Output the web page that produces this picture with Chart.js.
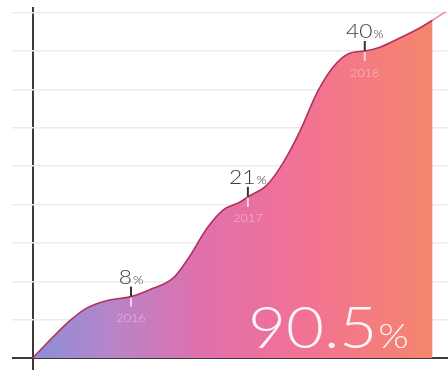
<!DOCTYPE html>
<html><head><meta charset="utf-8">
<script src="https://cdn.jsdelivr.net/npm/chart.js@4/dist/chart.umd.min.js"></script>
<style>html,body{margin:0;padding:0;background:#fff}#wrap{width:448px;height:370px}</style>
</head><body><div id="wrap"><canvas id="c" width="448" height="370"></canvas></div>
<script>
// ---- data ----
const years = [2016, 2017, 2018];
const shares = [8, 21, 40];
const highlightValue = '90.5';
const highlightUnit = '%';
// curve (x in fractional years, y in %)
const curveX = [2015.16, 2015.33, 2015.48, 2015.62, 2015.80, 2016.00, 2016.16, 2016.36, 2016.50, 2016.65, 2016.79, 2016.93, 2017.00, 2017.16, 2017.30, 2017.45, 2017.59, 2017.73, 2017.87, 2018.00, 2018.13, 2018.30, 2018.47, 2018.58, 2018.69];
const curveY = [0, 2.7, 4.9, 6.5, 7.5, 8, 8.9, 10.4, 13.2, 16.9, 19.3, 20.3, 21, 22.5, 25.4, 29.7, 34.5, 37.9, 39.7, 40, 40.5, 41.7, 43.0, 44.0, 45.1];
const fillEndX = 2018.58;
const yGridTicks = [5, 10, 15, 20, 25, 30, 35, 40, 45];

const X_MIN = 2014.982, X_MAX = 2018.712;
const Y_MIN = -1.56, Y_MAX = 45.73;

const linePts = curveX.map((x, i) => ({x, y: curveY[i]}));
const fillPts = linePts.filter(p => p.x <= fillEndX);

function fillGradient(ctx) {
  const chart = ctx.chart;
  const ca = chart.chartArea;
  if (!ca) return 'rgba(230,110,160,1)';
  const xs = chart.scales.x;
  const x0 = xs.getPixelForValue(curveX[0]);
  const x1 = xs.getPixelForValue(fillEndX);
  const g = chart.ctx.createLinearGradient(x0, 0, x1, 0);
  g.addColorStop(0, '#8a90d8');
  g.addColorStop(0.2, '#b884c8');
  g.addColorStop(0.42, '#e070ac');
  g.addColorStop(0.68, '#f27294');
  g.addColorStop(1, '#f5866c');
  return g;
}

function drawSplit(ctx, big, small, cx, baseline, bigSize, smallSize, color, sx, align) {
  ctx.save();
  ctx.fillStyle = color;
  ctx.textBaseline = 'alphabetic';
  ctx.textAlign = 'left';
  ctx.font = '300 ' + bigSize + 'px Lato';
  const wb = ctx.measureText(big).width * sx;
  ctx.font = '300 ' + smallSize + 'px Lato';
  const ws = ctx.measureText(small).width * sx;
  let left = align === 'left' ? cx : cx - (wb + ws + 1) / 2;
  ctx.translate(left, baseline);
  ctx.scale(sx, 1);
  ctx.font = '300 ' + bigSize + 'px Lato';
  ctx.fillText(big, 0, 0);
  ctx.font = '300 ' + smallSize + 'px Lato';
  ctx.fillText(small, (wb + 1) / sx, 0);
  ctx.restore();
}

const markerPlugin = {
  id: 'markers',
  afterDatasetsDraw(chart) {
    const ctx = chart.ctx;
    const xs = chart.scales.x, ys = chart.scales.y;
    years.forEach((yr, i) => {
      const px = xs.getPixelForValue(yr);
      const py = ys.getPixelForValue(shares[i]);
      ctx.save();
      ctx.lineWidth = 2;
      ctx.strokeStyle = '#333';
      ctx.beginPath(); ctx.moveTo(px, py - 10); ctx.lineTo(px, py); ctx.stroke();
      ctx.strokeStyle = 'rgba(255,225,240,0.85)';
      ctx.beginPath(); ctx.moveTo(px, py + 1); ctx.lineTo(px, py + 10); ctx.stroke();
      ctx.fillStyle = 'rgba(255,225,240,0.6)';
      ctx.font = '300 11px Lato';
      ctx.textAlign = 'center';
      ctx.textBaseline = 'middle';
      ctx.save();
      ctx.translate(px, py + 22);
      ctx.scale(1.15, 1);
      ctx.fillText(String(yr), 0, 0);
      ctx.restore();
      ctx.restore();
      drawSplit(ctx, String(shares[i]), '%', px, py - 13, 19, 11, '#3c3c3c', 1.2, 'center');
    });
    // highlighted total
    const hx = xs.getPixelForValue(2017.0);
    const hy = ys.getPixelForValue(1.3);
    drawSplit(ctx, highlightValue, highlightUnit, hx, hy, 57, 34, 'rgba(255,255,255,0.93)', 1.15, 'left');
  }
};

new Chart(document.getElementById('c'), {
  type: 'line',
  data: {
    datasets: [
      {
        data: linePts,
        borderColor: '#b2325f',
        borderWidth: 1.6,
        fill: false,
        pointRadius: 0,
        cubicInterpolationMode: 'monotone',
        segment: { borderColor: c => c.p0.parsed.x >= fillEndX - 0.001 ? '#ec8a98' : undefined }
      },
      {
        data: fillPts,
        borderWidth: 0,
        borderColor: 'rgba(0,0,0,0)',
        fill: 'origin',
        backgroundColor: fillGradient,
        pointRadius: 0,
        cubicInterpolationMode: 'monotone'
      }
    ]
  },
  options: {
    responsive: false,
    devicePixelRatio: 1,
    animation: false,
    layout: { padding: { left: 12, top: 7, right: 0, bottom: 0 } },
    plugins: { legend: { display: false }, tooltip: { enabled: false } },
    scales: {
      x: {
        type: 'linear', min: X_MIN, max: X_MAX, z: 1,
        grid: { drawTicks: false, color: '#3a3a3a', lineWidth: 2 },
        border: { display: false },
        ticks: { display: false },
        afterBuildTicks: s => { s.ticks = [{ value: curveX[0] }]; }
      },
      y: {
        type: 'linear', min: Y_MIN, max: Y_MAX,
        grid: { drawTicks: false, color: '#ececec', lineWidth: 1.5 },
        border: { display: false },
        ticks: { display: false },
        afterBuildTicks: s => { s.ticks = yGridTicks.map(v => ({ value: v })); }
      },
      yAxis: {
        type: 'linear', min: Y_MIN, max: Y_MAX, position: 'left', z: 1,
        grid: { drawTicks: false, color: '#3a3a3a', lineWidth: 2 },
        border: { display: false },
        ticks: { display: false },
        afterBuildTicks: s => { s.ticks = [{ value: 0 }]; }
      }
    }
  },
  plugins: [markerPlugin]
});
</script>
</body></html>
